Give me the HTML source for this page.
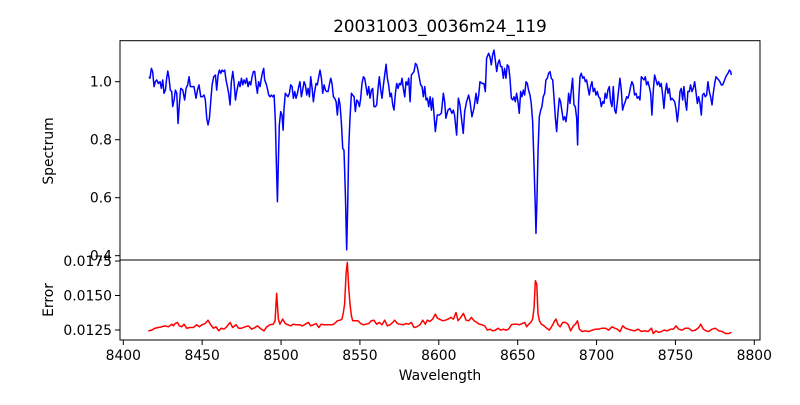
<!DOCTYPE html>
<html><head><meta charset="utf-8"><style>
html,body{margin:0;padding:0;background:#fff;}
svg text{font-family:"DejaVu Sans","Liberation Sans",sans-serif;fill:#000;}
</style></head><body>
<svg id="chart" width="800" height="400" xmlns="http://www.w3.org/2000/svg">
<rect width="800" height="400" fill="#fff"/>
<text x="440" y="32" font-size="16.7" text-anchor="middle">20031003_0036m24_119</text>
<text transform="translate(53,151) rotate(-90)" font-size="13.9" text-anchor="middle">Spectrum</text>
<text transform="translate(53,300) rotate(-90)" font-size="13.9" text-anchor="middle">Error</text>
<text x="440" y="380" font-size="13.9" text-anchor="middle">Wavelength</text>
<defs><clipPath id="clipTop"><rect x="120" y="40.7" width="640" height="219.3"/></clipPath>
<clipPath id="clipBot"><rect x="120" y="260" width="640" height="80"/></clipPath></defs>
<g id="marks"></g>
<rect x="120" y="40.7" width="640" height="219.3" fill="none" stroke="#000" stroke-width="1"/>
<rect x="120" y="260" width="640" height="80" fill="none" stroke="#000" stroke-width="1"/>
</svg>
<script>
const specWave=[8416.3,8416.9,8417.8,8418.6,8419.5,8420.3,8421.2,8422.2,8423.3,8424.1,8425.0,8425.8,8426.7,8427.5,8428.2,8429.0,8429.8,8430.7,8431.3,8432.2,8433.0,8433.9,8434.7,8435.5,8436.4,8437.7,8438.9,8439.8,8440.8,8441.7,8442.5,8443.6,8444.8,8446.1,8447.0,8448.0,8449.1,8450.1,8451.2,8452.0,8452.9,8453.7,8454.6,8455.4,8456.3,8457.3,8458.4,8459.2,8460.1,8460.9,8461.8,8462.6,8463.4,8464.3,8465.1,8466.0,8466.8,8467.7,8468.5,8469.4,8470.2,8471.1,8471.9,8473.2,8474.0,8474.9,8475.7,8476.5,8477.4,8478.2,8479.1,8479.9,8480.8,8481.6,8482.5,8483.3,8484.2,8485.0,8485.8,8486.7,8487.5,8488.4,8489.0,8489.6,8490.5,8491.3,8492.2,8493.0,8493.9,8494.7,8495.6,8496.4,8497.0,8497.7,8498.3,8498.9,8499.8,8500.6,8501.3,8501.9,8502.7,8503.6,8504.4,8505.3,8506.1,8507.0,8507.8,8508.7,8509.5,8510.4,8511.2,8512.0,8512.9,8513.7,8514.6,8515.4,8516.3,8517.1,8518.0,8518.8,8519.7,8520.5,8521.3,8522.2,8523.0,8523.9,8524.7,8525.6,8526.4,8527.3,8528.1,8528.9,8529.8,8530.6,8531.5,8532.3,8533.2,8534.0,8534.9,8535.7,8536.6,8537.4,8538.2,8539.1,8539.9,8540.8,8541.6,8542.3,8542.9,8543.7,8544.6,8545.4,8546.3,8547.1,8548.0,8548.8,8549.7,8550.5,8551.3,8552.2,8553.0,8553.9,8554.7,8555.6,8556.4,8557.3,8558.1,8558.9,8559.8,8560.6,8561.5,8562.3,8563.2,8564.0,8564.9,8565.7,8566.6,8567.4,8568.2,8569.1,8569.9,8570.8,8571.6,8572.5,8573.3,8574.2,8575.0,8575.9,8576.7,8577.5,8578.4,8579.2,8580.1,8580.9,8581.8,8582.6,8583.5,8584.3,8585.2,8586.0,8586.8,8587.7,8588.5,8589.4,8590.2,8591.1,8591.9,8592.8,8593.6,8594.5,8595.3,8596.1,8597.0,8597.8,
8599.0,8600.3,8601.6,8602.9,8603.7,8604.5,8605.8,8607.1,8608.3,8609.2,8610.0,8611.3,8612.4,8613.4,8614.5,8615.5,8616.4,8617.6,8618.9,8619.8,8621.0,8622.3,8623.6,8624.4,8625.3,8626.1,8627.4,8628.6,8629.5,8630.3,8631.6,8632.4,8633.3,8634.1,8635.0,8635.8,8636.7,8637.5,8638.4,8639.2,8640.0,8640.9,8641.7,8642.6,8643.4,8644.3,8645.1,8646.0,8646.8,8647.7,8648.5,8649.3,8650.2,8651.0,8651.9,8652.7,8653.6,8654.4,8655.3,8656.1,8656.9,8657.8,8658.6,8659.5,8660.3,8661.2,8661.6,8662.2,8662.9,8663.7,8664.6,8665.4,8666.2,8667.1,8667.9,8668.8,8669.6,8670.5,8671.3,8672.2,8673.0,8673.9,8674.7,8675.5,8676.4,8677.2,8678.1,8678.9,8679.8,8680.6,8681.5,8682.3,8683.2,8684.0,8684.8,8685.7,8686.5,8687.4,8688.0,8688.6,8689.5,8690.3,8691.2,8692.0,8692.9,8693.7,8694.6,8695.4,8696.2,8697.1,8697.9,8698.8,8699.6,8700.5,8701.3,8702.2,8703.0,8703.9,8704.7,8705.5,8706.4,8707.2,8708.1,8708.9,8709.8,8710.6,8711.5,8712.3,8713.2,8714.0,8714.8,8715.7,8716.5,8717.4,8718.2,8719.1,8719.9,8720.8,8721.6,8722.4,8723.3,8724.1,8725.0,8725.8,8726.7,8727.5,8728.4,8729.2,8730.1,8730.9,8731.7,8732.6,8733.4,8734.3,8735.1,8736.0,8736.8,8737.7,8738.5,8739.4,8740.2,8741.0,8741.9,8742.7,8743.6,8744.4,8745.3,8746.1,8747.0,8747.8,8748.7,8749.5,8750.3,8751.2,8752.0,8752.9,8753.7,8754.6,8755.4,8756.3,8757.1,8757.9,8758.8,8759.6,8760.5,8761.3,8762.2,8763.0,8763.9,8764.7,8765.6,8766.4,8767.2,8768.1,8768.9,8769.8,8770.6,8771.5,8772.3,8773.2,8774.0,8774.9,8775.7,8776.5,8777.4,8778.2,8779.1,8779.9,8780.8,8781.6,8782.5,8783.3,8784.2,8785.0,8785.4];
const specFlux=[1.017,1.012,1.046,1.035,0.983,1.000,1.006,0.994,1.000,0.977,1.006,0.960,0.971,1.012,1.037,1.012,0.971,0.966,0.914,0.937,0.971,0.960,0.856,0.920,0.977,0.971,0.937,0.977,0.989,1.017,0.983,0.983,0.983,0.943,0.971,0.989,0.948,0.948,0.954,0.937,0.874,0.851,0.874,0.931,0.989,1.017,1.023,0.971,1.023,1.040,1.029,1.040,1.035,1.040,1.006,0.983,0.960,0.920,1.000,1.035,1.000,0.937,0.966,1.000,0.983,1.012,0.989,1.006,0.994,1.012,0.983,1.000,0.989,1.017,1.035,1.035,0.989,0.960,1.000,0.983,1.012,1.035,1.046,1.006,0.994,0.977,0.954,0.948,0.954,0.948,0.954,0.862,0.724,0.586,0.724,0.851,0.897,0.885,0.833,0.908,0.960,0.954,0.948,0.960,0.989,0.983,0.943,0.966,0.943,0.960,0.983,1.000,0.948,0.971,1.000,0.989,0.954,0.977,0.948,1.017,0.977,0.931,0.966,0.994,0.989,1.017,1.040,1.012,0.960,0.989,0.971,0.966,0.966,0.989,1.012,0.994,0.948,0.943,0.931,0.885,0.943,0.920,0.862,0.770,0.764,0.609,0.420,0.586,0.770,0.874,0.960,0.954,0.948,0.897,0.937,0.931,0.914,0.943,0.994,1.017,1.012,0.983,0.954,0.983,0.943,0.971,0.977,0.914,0.914,0.920,0.977,1.017,0.971,0.943,0.989,1.023,1.060,1.012,0.989,0.948,0.960,0.920,0.902,0.960,0.994,0.977,0.994,0.989,1.012,0.977,0.948,1.000,0.989,1.012,0.931,1.023,1.029,1.035,1.063,1.058,1.040,1.012,0.989,0.983,0.948,0.983,0.937,0.943,0.914,0.948,0.902,0.943,0.885,0.828,
0.885,0.885,0.891,0.960,0.931,0.874,0.902,0.908,0.891,0.902,0.885,0.816,0.943,0.920,0.868,0.822,0.897,0.931,0.954,0.931,0.879,0.908,0.960,0.925,0.954,1.000,0.994,0.994,0.966,1.081,1.098,1.086,1.058,1.092,1.109,1.075,1.035,1.063,1.075,1.052,1.052,1.012,1.046,1.012,1.058,1.052,1.012,0.943,0.937,0.948,0.931,0.960,0.931,0.891,0.966,0.948,0.971,0.954,1.000,0.994,0.971,0.954,0.925,0.862,0.724,0.563,0.477,0.586,0.759,0.879,0.902,0.914,0.948,0.960,1.006,1.012,1.029,1.035,1.012,1.006,0.948,0.874,0.828,0.891,0.943,0.931,0.897,0.868,0.879,0.862,0.902,0.960,0.925,0.971,1.012,0.920,0.914,0.874,0.782,0.931,1.017,1.029,1.012,1.017,1.000,1.006,0.977,0.954,0.983,1.000,0.966,0.977,0.954,0.966,0.948,0.943,0.914,0.931,0.925,0.960,0.943,0.971,0.983,0.931,0.914,0.983,0.902,0.891,0.931,0.971,1.012,0.971,0.902,0.920,0.931,0.948,0.943,0.960,0.983,1.000,0.989,0.954,0.960,0.943,0.948,0.937,1.017,1.012,1.006,1.017,0.989,1.000,0.983,0.960,0.885,0.971,1.023,1.006,0.989,1.000,0.983,0.994,0.954,0.908,0.966,0.994,0.960,0.977,0.937,0.943,0.937,0.931,0.908,0.862,0.902,0.966,0.977,0.937,0.983,0.931,0.902,0.966,0.966,0.989,0.966,0.977,1.000,0.966,0.925,0.948,0.925,0.885,0.954,0.960,0.948,0.954,1.000,0.966,0.948,0.920,0.960,0.994,1.017,1.012,1.006,1.000,0.989,0.989,1.000,1.012,1.023,1.029,1.040,1.035,1.023];
const errWave=[8415.9,8418.0,8420.1,8422.2,8424.3,8426.4,8428.6,8430.7,8431.7,8432.8,8434.3,8435.5,8437.0,8438.5,8440.2,8442.3,8444.4,8446.5,8448.2,8449.9,8451.8,8453.7,8455.4,8457.1,8458.8,8460.5,8462.2,8463.8,8465.5,8467.7,8469.3,8471.5,8473.1,8475.0,8477.2,8479.3,8481.4,8483.5,8485.0,8486.7,8489.2,8490.9,8493.0,8495.1,8496.2,8497.2,8498.3,8499.3,8501.0,8502.7,8504.4,8506.1,8507.8,8509.5,8511.6,8513.7,8515.4,8517.3,8518.8,8520.5,8522.2,8523.9,8525.5,8527.2,8528.9,8530.6,8532.3,8534.0,8535.7,8537.4,8538.6,8539.5,8540.3,8541.2,8542.0,8542.9,8543.7,8544.6,8545.4,8547.1,8548.8,8550.5,8552.2,8553.9,8555.6,8557.2,8558.9,8560.6,8562.3,8564.0,8565.7,8567.4,8569.1,8570.8,8572.0,8573.7,8575.4,8577.5,8579.2,8580.9,8582.6,8584.3,8586.0,8588.1,8589.8,8591.5,8592.7,8594.4,8596.1,8597.8,8599.1,8600.3,
8602.5,8604.2,8605.9,8607.6,8609.3,8610.9,8612.2,8613.9,8615.6,8617.3,8619.0,8620.7,8622.4,8624.0,8625.7,8627.4,8629.1,8630.8,8632.5,8634.2,8635.9,8637.6,8639.3,8640.9,8642.6,8644.3,8646.0,8647.7,8649.4,8651.1,8652.8,8654.5,8655.7,8657.0,8658.3,8659.5,8660.4,8661.2,8662.1,8662.9,8663.8,8665.0,8666.7,8668.4,8670.1,8671.8,8673.5,8674.3,8675.6,8676.9,8678.6,8680.2,8681.9,8683.6,8685.3,8686.6,8687.9,8689.1,8690.8,8692.9,8695.0,8697.2,8699.3,8701.4,8703.5,8705.6,8707.7,8709.8,8711.5,8713.2,8714.9,8716.6,8718.3,8720.0,8722.1,8724.2,8726.3,8728.4,8730.5,8732.7,8734.8,8736.0,8737.7,8739.4,8741.1,8742.8,8744.9,8747.0,8748.7,8750.4,8752.1,8754.2,8756.3,8758.4,8760.5,8762.7,8764.8,8766.0,8767.7,8769.4,8771.1,8773.2,8775.3,8777.5,8779.6,8781.7,8783.8,8785.5];
const errVal=[0.01244,0.01249,0.01263,0.01268,0.01273,0.01280,0.01273,0.01292,0.01280,0.01297,0.01305,0.01280,0.01273,0.01292,0.01263,0.01268,0.01268,0.01288,0.01273,0.01288,0.01297,0.01321,0.01288,0.01263,0.01273,0.01244,0.01263,0.01256,0.01273,0.01305,0.01268,0.01288,0.01263,0.01263,0.01273,0.01280,0.01256,0.01268,0.01280,0.01263,0.01244,0.01273,0.01288,0.01292,0.01317,0.01515,0.01329,0.01292,0.01329,0.01297,0.01288,0.01280,0.01292,0.01288,0.01288,0.01280,0.01292,0.01305,0.01280,0.01288,0.01297,0.01268,0.01292,0.01288,0.01288,0.01288,0.01288,0.01297,0.01317,0.01321,0.01329,0.01377,0.01437,0.01655,0.01740,0.01558,0.01437,0.01353,0.01317,0.01317,0.01317,0.01297,0.01288,0.01292,0.01297,0.01317,0.01321,0.01292,0.01305,0.01288,0.01321,0.01280,0.01288,0.01305,0.01321,0.01297,0.01292,0.01288,0.01297,0.01292,0.01305,0.01268,0.01273,0.01288,0.01321,0.01292,0.01321,0.01312,0.01329,0.01365,0.01336,0.01329,
0.01317,0.01321,0.01329,0.01341,0.01329,0.01377,0.01317,0.01341,0.01370,0.01321,0.01317,0.01341,0.01317,0.01305,0.01292,0.01288,0.01280,0.01249,0.01256,0.01244,0.01249,0.01263,0.01249,0.01256,0.01249,0.01256,0.01288,0.01292,0.01292,0.01288,0.01297,0.01305,0.01273,0.01292,0.01305,0.01329,0.01413,0.01607,0.01582,0.01365,0.01317,0.01292,0.01280,0.01263,0.01249,0.01280,0.01317,0.01329,0.01288,0.01273,0.01305,0.01305,0.01292,0.01244,0.01280,0.01292,0.01317,0.01256,0.01239,0.01244,0.01239,0.01249,0.01256,0.01256,0.01263,0.01263,0.01249,0.01273,0.01263,0.01256,0.01239,0.01280,0.01263,0.01256,0.01249,0.01244,0.01256,0.01239,0.01244,0.01239,0.01263,0.01225,0.01244,0.01232,0.01239,0.01249,0.01244,0.01256,0.01256,0.01280,0.01256,0.01249,0.01263,0.01263,0.01244,0.01249,0.01268,0.01292,0.01256,0.01244,0.01239,0.01256,0.01263,0.01244,0.01239,0.01225,0.01225,0.01232];
const xTicks=[8400,8450,8500,8550,8600,8650,8700,8750,8800];
const topYTicks=[0.4,0.6,0.8,1.0];
const topYLabels=["0.4","0.6","0.8","1.0"];
const botYTicks=[0.0125,0.0150,0.0175];
const botYLabels=["0.0125","0.0150","0.0175"];

const NS="http://www.w3.org/2000/svg";
const xScale=w=>123.3+(w-8400)*1.5775;
const yTop=v=>81.7-(v-1.0)*290;
const yBot=e=>330-(e-0.0125)*13800;
const g=document.getElementById('marks');
function mk(tag,attrs){const e=document.createElementNS(NS,tag);for(const k in attrs)e.setAttribute(k,attrs[k]);return e;}

let d=specWave.map((w,i)=>(i?'L':'M')+xScale(w).toFixed(2)+','+yTop(specFlux[i]).toFixed(2)).join('');
const sp=mk('path',{d:d,fill:'none',stroke:'#0000ff','stroke-width':1.5,'stroke-linejoin':'round','clip-path':'url(#clipTop)'});


g.appendChild(sp);
let d2=errWave.map((w,i)=>(i?'L':'M')+xScale(w).toFixed(2)+','+yBot(errVal[i]).toFixed(2)).join('');
const ep=mk('path',{d:d2,fill:'none',stroke:'#ff0000','stroke-width':1.5,'stroke-linejoin':'round','clip-path':'url(#clipBot)'});


g.appendChild(ep);

xTicks.forEach(t=>{const x=xScale(t);
 const l=mk('line',{x1:x,x2:x,y1:340,y2:345,stroke:'#000','stroke-width':1});
 
 
 g.appendChild(l);
 const tx=mk('text',{x:x,y:360,'font-size':13.9,'text-anchor':'middle'});tx.textContent=t;
 
 
 g.appendChild(tx);});
topYTicks.forEach((t,i)=>{const y=yTop(t);
 const l=mk('line',{x1:115,x2:120,y1:y,y2:y,stroke:'#000','stroke-width':1});
 
 
 g.appendChild(l);
 const tx=mk('text',{x:112,y:y+5,'font-size':13.9,'text-anchor':'end'});tx.textContent=topYLabels[i];
 
 
 g.appendChild(tx);});
botYTicks.forEach((t,i)=>{const y=yBot(t);
 const l=mk('line',{x1:115,x2:120,y1:y,y2:y,stroke:'#000','stroke-width':1});
 
 
 g.appendChild(l);
 const tx=mk('text',{x:112,y:y+5,'font-size':13.9,'text-anchor':'end'});tx.textContent=botYLabels[i];
 
 
 g.appendChild(tx);});
</script>
</body></html>
